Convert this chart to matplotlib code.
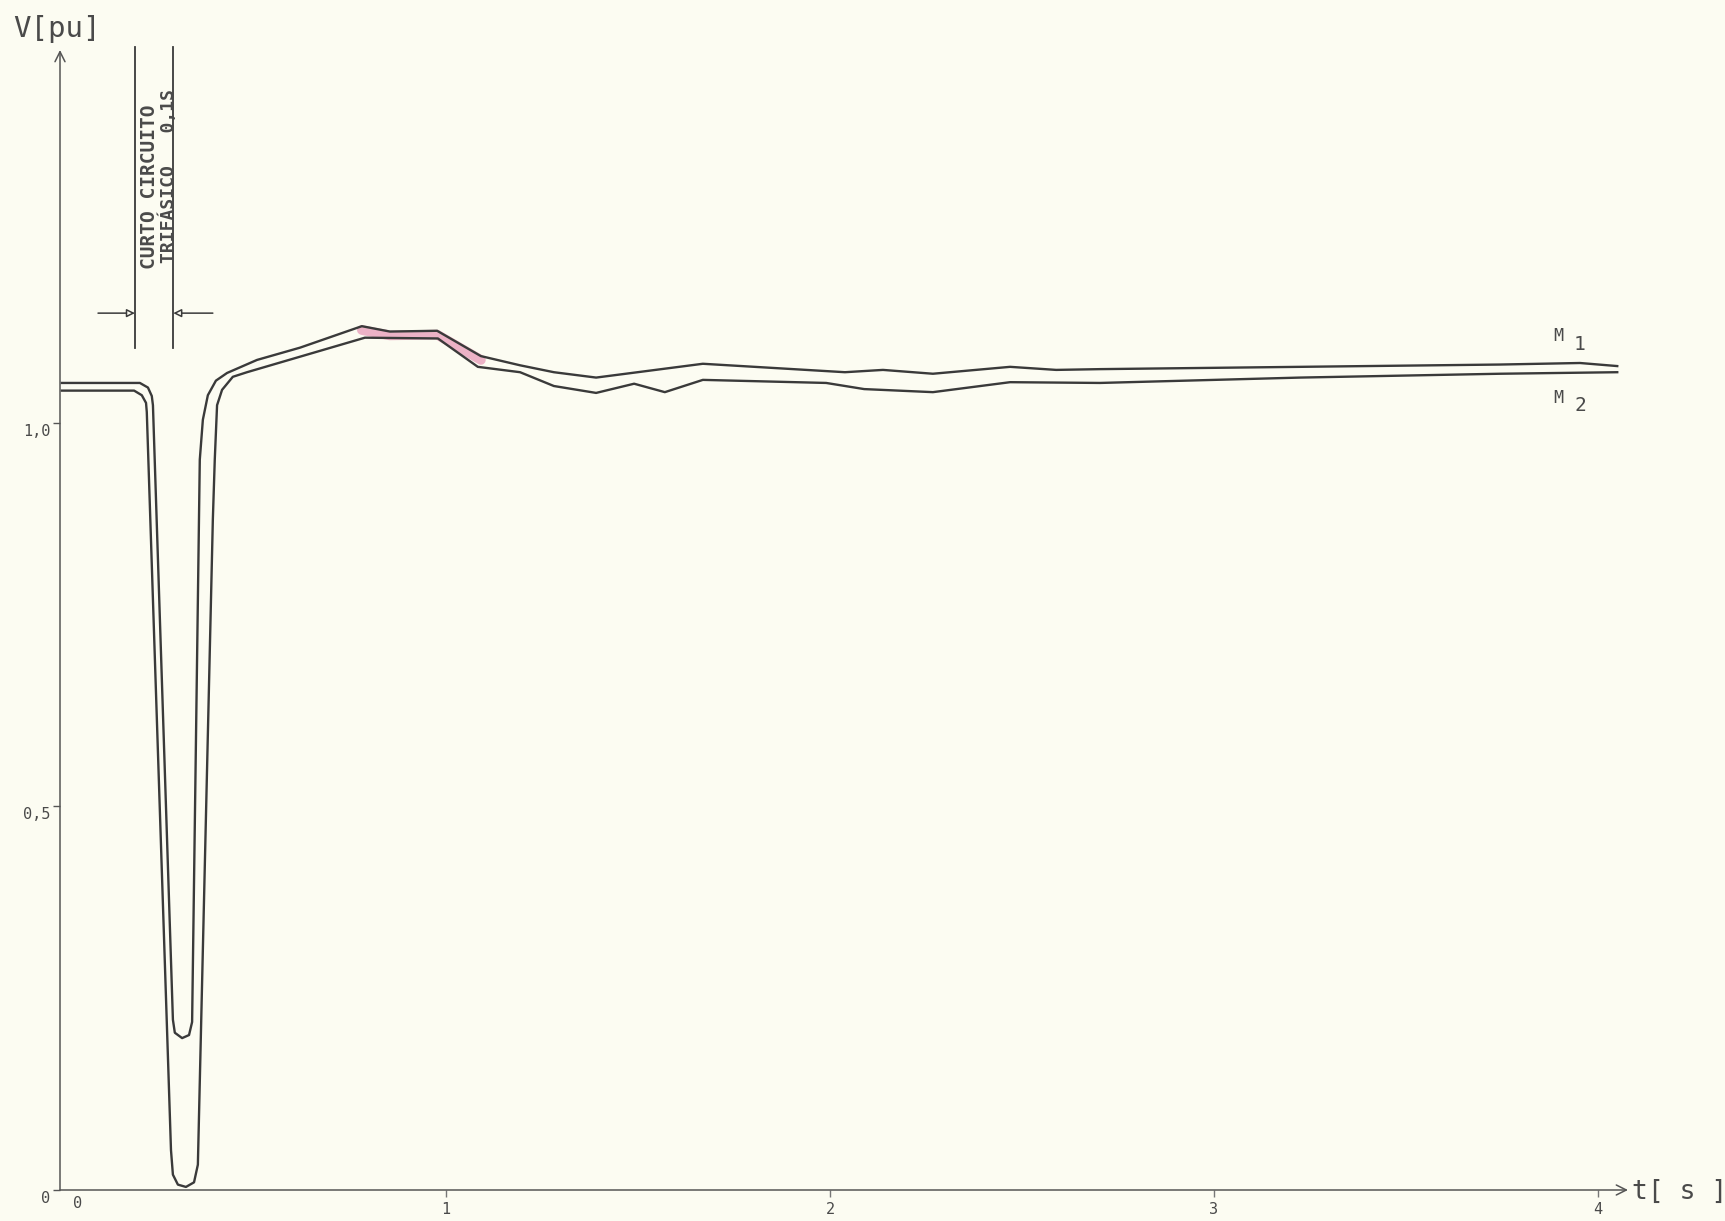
import numpy as np
import matplotlib.pyplot as plt
from matplotlib.transforms import ScaledTranslation

plt.rcParams['font.family'] = ['DejaVu Sans Mono', 'DejaVu Sans']

# curva M1 (superior) - tempo [s] e tensao [pu]
t_m1 = [0.0, 0.203, 0.224, 0.234, 0.237, 0.289, 0.294, 0.313, 0.331, 0.339,
        0.359, 0.367, 0.380, 0.401, 0.430, 0.508, 0.620, 0.781, 0.854, 0.977,
        1.091, 1.193, 1.281, 1.391, 1.669, 2.039, 2.138, 2.268, 2.469, 2.589,
        2.703, 3.224, 3.745, 3.953, 4.05]
v_m1 = [1.052, 1.052, 1.046, 1.035, 1.023, 0.222, 0.205, 0.198, 0.202, 0.219,
        0.952, 1.004, 1.036, 1.055, 1.065, 1.082, 1.098, 1.126, 1.119, 1.120,
        1.087, 1.075, 1.066, 1.059, 1.077, 1.066, 1.069, 1.064, 1.073, 1.069,
        1.070, 1.073, 1.076, 1.078, 1.074]

# curva M2 (inferior)
t_m2 = [0.0, 0.188, 0.208, 0.219, 0.221, 0.284, 0.289, 0.302, 0.323, 0.344,
        0.354, 0.393, 0.398, 0.404, 0.417, 0.445, 0.482, 0.789, 0.979, 1.083,
        1.193, 1.281, 1.391, 1.490, 1.570, 1.669, 1.990, 2.089, 2.268, 2.469,
        2.703, 3.224, 3.745, 4.05]
v_m2 = [1.042, 1.042, 1.036, 1.026, 1.014, 0.052, 0.020, 0.007, 0.004, 0.010,
        0.033, 0.874, 0.952, 1.023, 1.043, 1.060, 1.066, 1.111, 1.110, 1.073,
        1.066, 1.048, 1.039, 1.051, 1.040, 1.056, 1.052, 1.044, 1.040, 1.053,
        1.052, 1.059, 1.064, 1.066]

# curto circuito trifasico de 0,1 s
t_cc_ini = 0.19
t_cc_fim = 0.29

yticks = [0, 0.5, 1.0]
ylabels = ['0', '0,5', '1,0']
xticks = [1, 2, 3, 4]
xlabels = ['1', '2', '3', '4']

papel = '#fcfcf2'
tinta = '#3a3a3a'

fig = plt.figure(figsize=(17.25, 12.21), dpi=100)
fig.patch.set_facecolor(papel)
ax = fig.add_axes([60/1725, 31/1221, 1568/1725, 1140/1221])
ax.set_facecolor('none')
ax.set_xlim(-0.005, 4.078)
ax.set_ylim(0, 1.486)
for s in ax.spines.values():
    s.set_visible(False)

# eixos com setas
ax.annotate('', xy=(1, 0), xytext=(0, 0), xycoords='axes fraction',
            arrowprops=dict(arrowstyle='->', lw=1.1, color='#555555',
                            shrinkA=0, shrinkB=0, mutation_scale=18))
ax.annotate('', xy=(0, 1), xytext=(0, 0), xycoords='axes fraction',
            arrowprops=dict(arrowstyle='->', lw=1.1, color='#555555',
                            shrinkA=0, shrinkB=0, mutation_scale=18))

# realce rosa perto do pico
t1 = np.array(t_m1)
v1 = np.array(v_m1)
m = (t1 >= 0.75) & (t1 <= 1.1)
ax.plot(t1[m], v1[m] - 0.005, color='#e8a0bc', lw=7, alpha=0.8,
        solid_capstyle='round', zorder=2)

ax.plot(t_m1, v_m1, color=tinta, lw=1.7, zorder=3, clip_on=False)
ax.plot(t_m2, v_m2, color=tinta, lw=1.7, zorder=3, clip_on=False)

# marcacao do curto circuito
for tc in [t_cc_ini, t_cc_fim]:
    ax.plot([tc, tc], [1.098, 1.490], color=tinta, lw=1.3, clip_on=False)
ax.annotate('', xy=(t_cc_ini, 1.143), xytext=(0.094, 1.143),
            arrowprops=dict(arrowstyle='-|>', lw=1.1, color=tinta, fc=papel,
                            shrinkA=0, shrinkB=0, mutation_scale=12))
ax.annotate('', xy=(t_cc_fim, 1.143), xytext=(0.393, 1.143),
            arrowprops=dict(arrowstyle='-|>', lw=1.1, color=tinta, fc=papel,
                            shrinkA=0, shrinkB=0, mutation_scale=12))
ax.text(0.229, 1.201, 'CURTO CIRCUITO', rotation=90, ha='center', va='bottom',
        fontsize=14, fontweight='bold', color='#4a4a4a')
ax.text(0.277, 1.209, 'TRIFÁSICO   0,1S', rotation=90, ha='center', va='bottom',
        fontsize=13, fontweight='bold', color='#4a4a4a')

# rotulos das curvas
ax.text(3.896, 1.113, 'M', fontsize=12, color='#4a4a4a', ha='center', va='center')
ax.text(3.953, 1.102, '1', fontsize=14, color='#4a4a4a', ha='center', va='center')
ax.text(3.896, 1.033, 'M', fontsize=12, color='#4a4a4a', ha='center', va='center')
ax.text(3.953, 1.022, '2', fontsize=14, color='#4a4a4a', ha='center', va='center')

ax.set_yticks(yticks)
ax.set_yticklabels(ylabels)
ax.set_xticks(xticks)
ax.set_xticklabels(xlabels)
ax.tick_params(axis='y', direction='out', length=5, width=1, color='#555555',
               labelsize=11, labelcolor='#4a4a4a', pad=2)
ax.tick_params(axis='x', direction='out', length=5, width=1, color='#777777',
               labelsize=11, labelcolor='#4a4a4a', pad=4)
desl = ScaledTranslation(0, -7/100, fig.dpi_scale_trans)
for lb in ax.get_yticklabels():
    lb.set_transform(lb.get_transform() + desl)
ax.text(0.04, -0.008, '0', fontsize=11, color='#4a4a4a', ha='center', va='top')

fig.text(57/1725, 1 - 29/1221, 'V[pu]', fontsize=21, color='#4a4a4a',
         ha='center', va='center')
fig.text(1632/1725, 1 - 1192/1221, 't[ s ]', fontsize=19, color='#4a4a4a',
         ha='left', va='center')

fig.savefig('out.png', dpi=100, facecolor=fig.get_facecolor())
